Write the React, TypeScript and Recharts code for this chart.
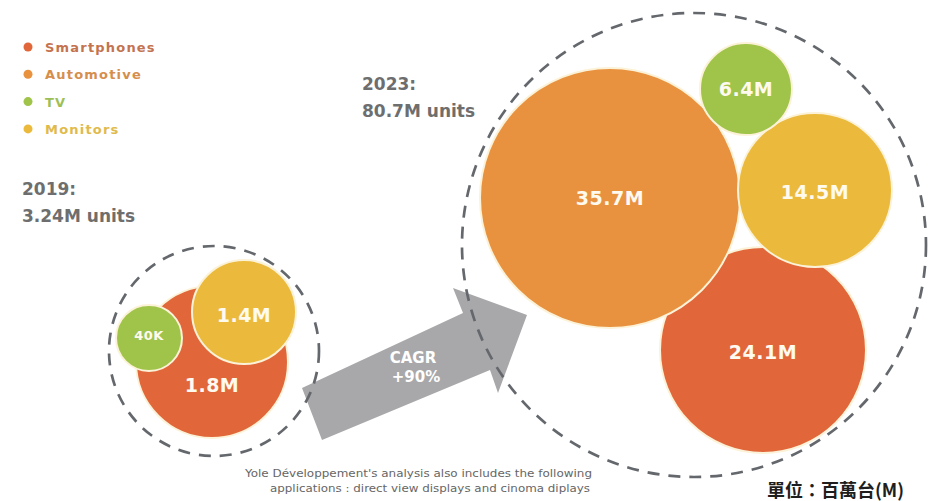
import React from 'react';
import { ScatterChart, Scatter, XAxis, YAxis, Customized } from 'recharts';

// ---- data ----
const categories = ['Smartphones', 'Automotive', 'TV', 'Monitors'];
const units2019 = [1.8, 0, 0.04, 1.4]; // millions
const units2023 = [24.1, 35.7, 6.4, 14.5]; // millions
const years = ['2019', '2023'];
const totals = [3.24, 80.7];
const cagrPct = 90;
const noteLines = [
  "Yole Développement's analysis also includes the following",
  'applications : direct view displays and cinoma diplays',
];
const unitNote = '單位：百萬台(M)';

// ---- styles / layout (chart units = px) ----
const W = 930;
const H = 501;
const bubbleColors = ['#e1673a', '#e8923f', '#a0c44a', '#ebba3c'];
const legendTextColors = ['#c4734f', '#d68e4c', '#9dbf57', '#e0bb4c'];
const layout2019 = [
  { x: 212, y: 362, r: 76, dy: 23 },
  null,
  { x: 149, y: 338, r: 33, dy: -3 },
  { x: 244, y: 312, r: 52, dy: 3 },
];
const layout2023 = [
  { x: 763, y: 350, r: 103, dy: 2 },
  { x: 610, y: 198, r: 130, dy: 0 },
  { x: 746, y: 89, r: 46, dy: 0 },
  { x: 815, y: 190, r: 77, dy: 2 },
];
const drawOrder2019 = [0, 2, 3];
const drawOrder2023 = [0, 1, 3, 2];
const groupLayout = [
  { x: 214, y: 351, r: 105 },
  { x: 694, y: 245, r: 232 },
];
const titleLayout = [
  { x: 22, y: 195 },
  { x: 362, y: 90 },
];
const arrowAnchor = [{ x: 413, y: 365 }];
const arrowOffsets = [
  [-91, 75],
  [-111, 23],
  [50, -52],
  [40, -77],
  [114, -50],
  [85, 28],
  [77, 5],
];

const FONT = '"DejaVu Sans", Verdana, sans-serif';

const fmt = (v: number) => (v >= 1 ? `${v}M` : `${Math.round(v * 1000)}K`);

const buildBubbles = (values: number[], layout: any[], order: number[]) =>
  order.map((i) => ({
    x: layout[i].x,
    y: layout[i].y,
    r: layout[i].r,
    dy: layout[i].dy,
    color: bubbleColors[i],
    label: fmt(values[i]),
    category: categories[i],
  }));

const bubbles2019 = buildBubbles(units2019, layout2019, drawOrder2019);
const bubbles2023 = buildBubbles(units2023, layout2023, drawOrder2023);

const Bubble = (props: any) => {
  const { cx, cy, payload } = props;
  const fs = payload.r > 40 ? 19 : 13;
  return (
    <g>
      <circle cx={cx} cy={cy} r={payload.r} fill={payload.color} stroke="#fbf2d8" strokeWidth={2} />
      <text
        x={cx}
        y={cy + payload.dy}
        dy="0.36em"
        textAnchor="middle"
        fill="#fffaf0"
        fontFamily={FONT}
        fontWeight={700}
        fontSize={fs}
        letterSpacing={0.5}
      >
        {payload.label}
      </text>
    </g>
  );
};

const GroupRing = (props: any) => {
  const { cx, cy, payload } = props;
  return (
    <circle
      cx={cx}
      cy={cy}
      r={payload.r}
      fill="none"
      stroke="#64686d"
      strokeWidth={2.7}
      strokeDasharray="12 9"
    />
  );
};

const Arrow = (props: any) => {
  const { cx, cy } = props;
  const pts = arrowOffsets.map(([dx, dy]) => `${cx + dx},${cy + dy}`).join(' ');
  return (
    <g>
      <polygon points={pts} fill="#a8a8aa" />
      <text x={cx} y={cy - 2} textAnchor="middle" fill="#ffffff" fontFamily={FONT} fontWeight={700} fontSize={15}>
        CAGR
      </text>
      <text x={cx + 3} y={cy + 17} textAnchor="middle" fill="#ffffff" fontFamily={FONT} fontWeight={700} fontSize={15}>
        {`+${cagrPct}%`}
      </text>
    </g>
  );
};

const Overlay = () => (
  <g>
    {categories.map((c, i) => (
      <g key={c}>
        <circle cx={28} cy={47 + i * 27.3} r={4.5} fill={bubbleColors[i]} />
        <text
          x={45}
          y={52 + i * 27.3}
          fill={legendTextColors[i]}
          fontFamily={FONT}
          fontWeight={700}
          fontSize={13}
          letterSpacing={1.2}
        >
          {c}
        </text>
      </g>
    ))}
    {years.map((y, i) => (
      <g key={y}>
        <text x={titleLayout[i].x} y={titleLayout[i].y} fill="#6e6e6e" fontFamily={FONT} fontWeight={700} fontSize={17}>
          {`${y}:`}
        </text>
        <text x={titleLayout[i].x} y={titleLayout[i].y + 27} fill="#6e6e6e" fontFamily={FONT} fontWeight={700} fontSize={17}>
          {`${totals[i]}M units`}
        </text>
      </g>
    ))}
    <text x={245} y={477} fill="#666" fontFamily={FONT} fontSize={11} textLength={347} lengthAdjust="spacingAndGlyphs">
      {noteLines[0]}
    </text>
    <text x={270} y={492} fill="#666" fontFamily={FONT} fontSize={11} textLength={320} lengthAdjust="spacingAndGlyphs">
      {noteLines[1]}
    </text>
    <text x={767} y={497} fill="#1e1e1e" fontFamily='"Noto Sans CJK TC", sans-serif' fontWeight={700} fontSize={18}>
      {unitNote}
    </text>
  </g>
);

export default function App() {
  return (
    <div style={{ position: 'absolute', left: 0, top: 0, width: W, height: H, background: '#fff' }}>
      <ScatterChart width={W} height={H} margin={{ top: 0, right: 0, bottom: 0, left: 0 }}>
        <XAxis type="number" dataKey="x" domain={[0, W]} hide />
        <YAxis type="number" dataKey="y" domain={[0, H]} reversed hide />
        <Scatter data={arrowAnchor} shape={Arrow} isAnimationActive={false} />
        <Scatter data={bubbles2019} shape={Bubble} isAnimationActive={false} />
        <Scatter data={bubbles2023} shape={Bubble} isAnimationActive={false} />
        <Scatter data={groupLayout} shape={GroupRing} isAnimationActive={false} />
        <Customized component={Overlay} />
      </ScatterChart>
    </div>
  );
}
